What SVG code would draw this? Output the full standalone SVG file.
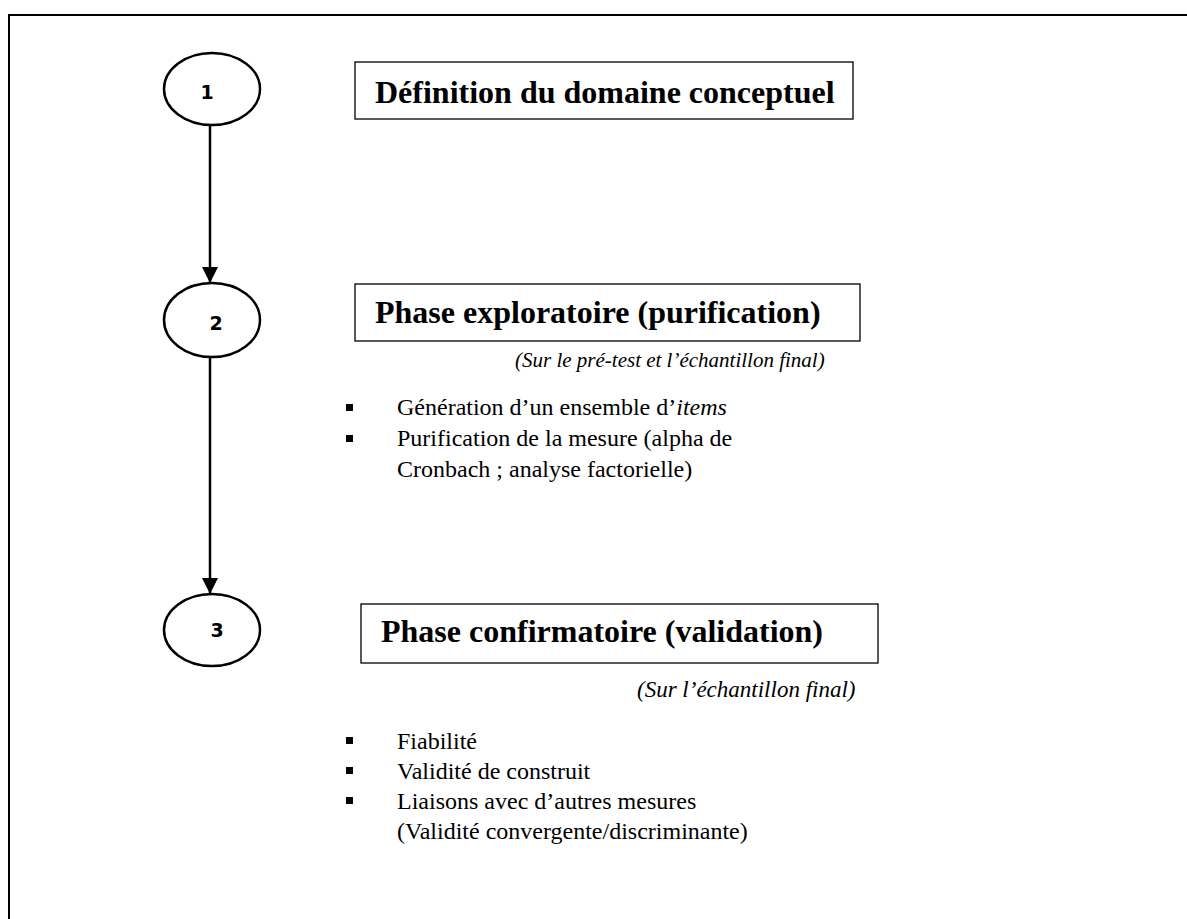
<svg xmlns="http://www.w3.org/2000/svg" width="1187" height="919" viewBox="0 0 1187 919">
<style>
.frame{fill:none;stroke:#000;stroke-width:2}
.ell{fill:#fff;stroke:#000;stroke-width:2.5}
.box{fill:#fff;stroke:#000;stroke-width:1.3}
.num{font-family:"DejaVu Sans",sans-serif;font-weight:bold;font-size:19px;text-anchor:middle}
.title{font-family:"Liberation Serif",serif;font-weight:bold;font-size:32px}
.sub{font-family:"Liberation Serif",serif;font-style:italic}
.li{font-family:"Liberation Serif",serif;font-size:24px}
.conn{stroke:#000;stroke-width:2.5;fill:none}
</style>
<defs>
<marker id="arr" viewBox="0 0 16 16" markerWidth="16" markerHeight="16" refX="16" refY="8" orient="auto" markerUnits="userSpaceOnUse">
<path d="M0,0 L16,8 L0,16 Z" fill="#000"/>
</marker>
</defs>
<rect x="0" y="0" width="1187" height="919" fill="#fff"/>
<rect class="frame" x="9" y="15" width="1200" height="930"/>
<g id="connectors">
<line class="conn" x1="210" y1="125" x2="210" y2="283" marker-end="url(#arr)"/>
<line class="conn" x1="210" y1="357" x2="210" y2="594" marker-end="url(#arr)"/>
</g>
<g id="n1">
<ellipse class="ell" cx="212" cy="89" rx="48" ry="36"/>
<text class="num" x="207" y="99">1</text>
</g>
<g id="n2">
<ellipse class="ell" cx="212" cy="320" rx="48" ry="37"/>
<text class="num" x="216" y="330">2</text>
</g>
<g id="n3">
<ellipse class="ell" cx="212" cy="630" rx="48" ry="36"/>
<text class="num" x="217" y="637">3</text>
</g>
<g id="b1">
<rect class="box" x="355" y="62" width="498" height="57"/>
<text class="title" x="375" y="103">Définition du domaine conceptuel</text>
</g>
<g id="b2">
<rect class="box" x="355" y="284" width="505" height="57"/>
<text class="title" x="375" y="323">Phase exploratoire (purification)</text>
<text class="sub" x="515" y="367" font-size="21">(Sur le pré-test et l’échantillon final)</text>
<rect x="346" y="404" width="7" height="7"/>
<text class="li" x="397" y="415">Génération d’un ensemble d’<tspan font-style="italic">items</tspan></text>
<rect x="346" y="435" width="7" height="7"/>
<text class="li" x="397" y="446">Purification de la mesure (alpha de</text>
<text class="li" x="397" y="477">Cronbach ; analyse factorielle)</text>
</g>
<g id="b3">
<rect class="box" x="361" y="604" width="517" height="59"/>
<text class="title" x="381" y="642">Phase confirmatoire (validation)</text>
<text class="sub" x="637" y="697" font-size="23">(Sur l’échantillon final)</text>
<rect x="346" y="737" width="7" height="7"/>
<text class="li" x="397" y="749">Fiabilité</text>
<rect x="346" y="767" width="7" height="7"/>
<text class="li" x="397" y="779">Validité de construit</text>
<rect x="346" y="797" width="7" height="7"/>
<text class="li" x="397" y="809">Liaisons avec d’autres mesures</text>
<text class="li" x="397" y="839">(Validité convergente/discriminante)</text>
</g>
</svg>
